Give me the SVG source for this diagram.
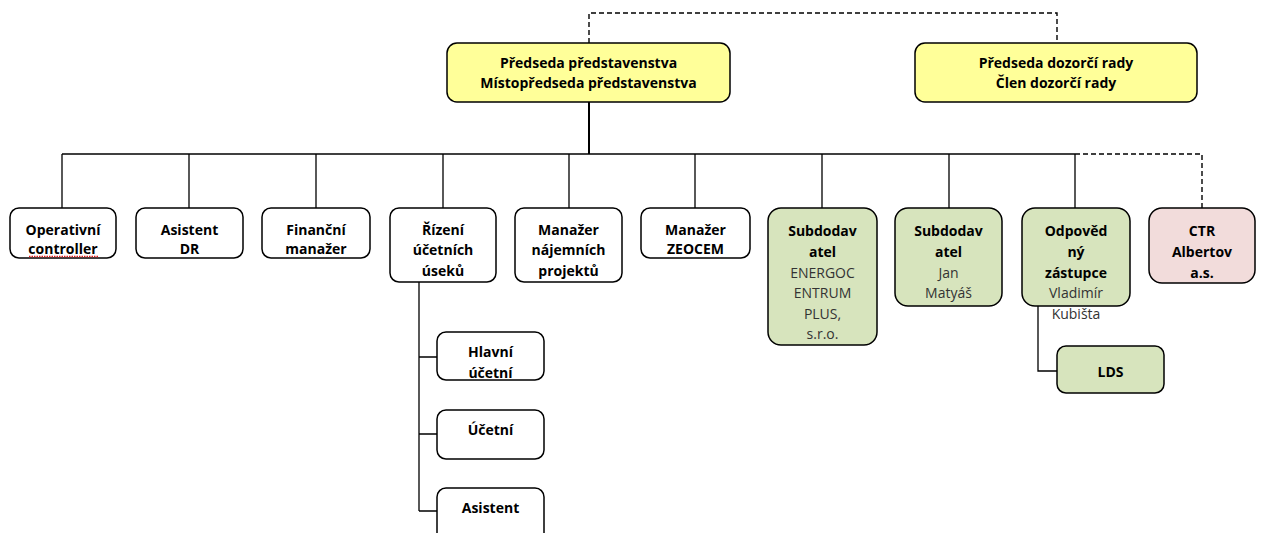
<svg xmlns="http://www.w3.org/2000/svg" width="1261" height="533" viewBox="0 0 1261 533">
<style>
.box{stroke:#000;stroke-width:1.5}
.w{fill:#fff}
.y{fill:#ffff99}
.g{fill:#d7e4bd}
.p{fill:#f2dcdb}
text{font-family:"Open Sans","Noto Sans","Liberation Sans",sans-serif;font-size:14px;text-anchor:middle;fill:#000}
.b{font-weight:bold}
.r{font-weight:normal;fill:#333}
.ln{fill:none;stroke:#000;stroke-width:1.3}
.ds{fill:none;stroke:#000;stroke-width:1.4;stroke-dasharray:5 3}
</style>
<rect width="1261" height="533" fill="#fff"/>
<g id="connectors">
<path class="ds" d="M589,43 V13 H1057 V43"/>
<path class="ln" d="M589,102 V154" style="stroke-width:2"/>
<path class="ln" d="M62,154 H1075"/>
<path class="ds" d="M1075,154 H1202 V208"/>
<path class="ln" d="M62,154 V208 M189,154 V208 M316,154 V208 M443,154 V208 M569,154 V208 M695,154 V208 M822,154 V208 M949,154 V208 M1075,154 V208"/>
<path class="ln" d="M419,282 V511 M419,357 H437 M419,434 H437 M419,511 H437"/>
<path class="ln" d="M1038,306 V371 H1057"/>
</g>
<g id="n-predseda">
<rect class="box y" x="447" y="43" width="283" height="59" rx="10"/>
<text class="b" x="588.5" y="68">Předseda představenstva</text>
<text class="b" x="588.5" y="88">Místopředseda představenstva</text>
</g>
<g id="n-dozorci">
<rect class="box y" x="915" y="43" width="282" height="59" rx="10"/>
<text class="b" x="1056" y="68">Předseda dozorčí rady</text>
<text class="b" x="1056" y="88">Člen dozorčí rady</text>
</g>
<g id="n-operativni">
<rect class="box w" x="10" y="208" width="106" height="50" rx="9"/>
<text class="b" x="63" y="235">Operativní</text>
<text class="b" x="63" y="254">controller</text>
<path d="M29,256.5 H99" stroke="#e02020" stroke-width="1.5" stroke-dasharray="1.5 1" fill="none"/>
</g>
<g id="n-asistentdr">
<rect class="box w" x="136" y="208" width="107" height="50" rx="9"/>
<text class="b" x="189.5" y="235">Asistent</text>
<text class="b" x="189.5" y="254">DR</text>
</g>
<g id="n-financni">
<rect class="box w" x="262" y="208" width="108" height="50" rx="9"/>
<text class="b" x="316" y="235">Finanční</text>
<text class="b" x="316" y="254">manažer</text>
</g>
<g id="n-rizeni">
<rect class="box w" x="390" y="208" width="106" height="74" rx="9"/>
<text class="b" x="443" y="235">Řízení</text>
<text class="b" x="443" y="255">účetních</text>
<text class="b" x="443" y="276">úseků</text>
</g>
<g id="n-najemnich">
<rect class="box w" x="515" y="208" width="107" height="74" rx="9"/>
<text class="b" x="568.5" y="235">Manažer</text>
<text class="b" x="568.5" y="255">nájemních</text>
<text class="b" x="568.5" y="276">projektů</text>
</g>
<g id="n-zeocem">
<rect class="box w" x="641" y="208" width="109" height="50" rx="9"/>
<text class="b" x="695.5" y="235">Manažer</text>
<text class="b" x="695.5" y="254">ZEOCEM</text>
</g>
<g id="n-energo">
<rect class="box g" x="768" y="208" width="109" height="137" rx="13"/>
<text class="b" x="822.5" y="236">Subdodav</text>
<text class="b" x="822.5" y="257">atel</text>
<text class="r" x="822.5" y="278">ENERGOC</text>
<text class="r" x="822.5" y="298">ENTRUM</text>
<text class="r" x="822.5" y="319">PLUS,</text>
<text class="r" x="822.5" y="339">s.r.o.</text>
</g>
<g id="n-jan">
<rect class="box g" x="895" y="208" width="107" height="98" rx="13"/>
<text class="b" x="948.5" y="236">Subdodav</text>
<text class="b" x="948.5" y="257">atel</text>
<text class="r" x="948.5" y="278">Jan</text>
<text class="r" x="948.5" y="298">Matyáš</text>
</g>
<g id="n-odpovedny">
<rect class="box g" x="1022" y="208" width="108" height="98" rx="13"/>
<text class="b" x="1076" y="236">Odpověd</text>
<text class="b" x="1076" y="257">ný</text>
<text class="b" x="1076" y="278">zástupce</text>
<text class="r" x="1076" y="298">Vladimír</text>
<text class="r" x="1076" y="319">Kubišta</text>
</g>
<g id="n-ctr">
<rect class="box p" x="1149" y="208" width="106" height="75" rx="13"/>
<text class="b" x="1202" y="236">CTR</text>
<text class="b" x="1202" y="257">Albertov</text>
<text class="b" x="1202" y="278">a.s.</text>
</g>
<g id="n-lds">
<rect class="box g" x="1057" y="346" width="107" height="47" rx="9"/>
<text class="b" x="1110.5" y="377">LDS</text>
</g>
<g id="n-hlavni">
<rect class="box w" x="437" y="332" width="107" height="48" rx="9"/>
<text class="b" x="490.5" y="357">Hlavní</text>
<text class="b" x="490.5" y="378">účetní</text>
</g>
<g id="n-ucetni">
<rect class="box w" x="437" y="410" width="107" height="49" rx="9"/>
<text class="b" x="490.5" y="435">Účetní</text>
</g>
<g id="n-asistent">
<rect class="box w" x="437" y="488" width="107" height="55" rx="9"/>
<text class="b" x="490.5" y="513">Asistent</text>
</g>
</svg>
